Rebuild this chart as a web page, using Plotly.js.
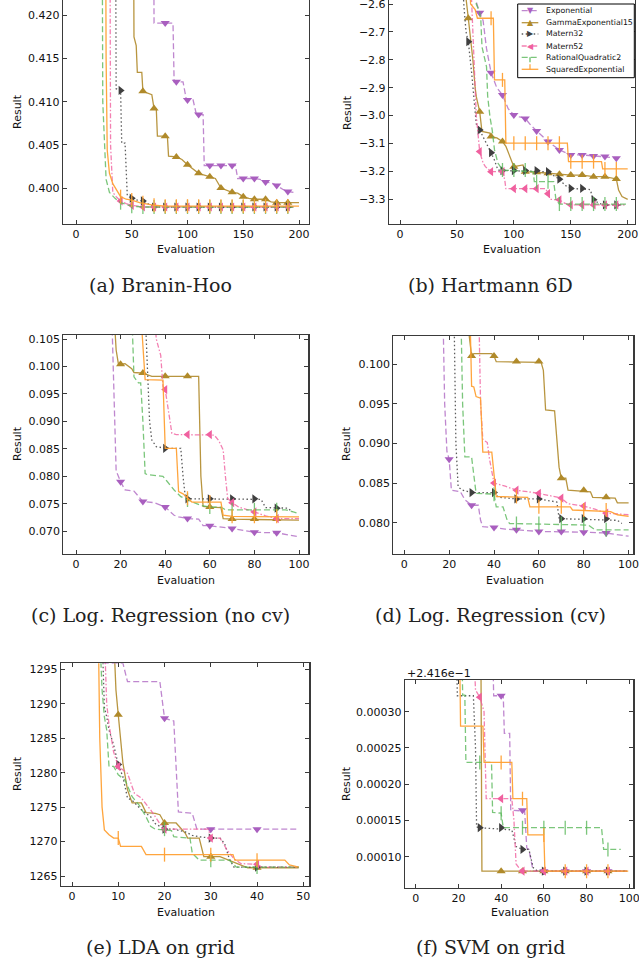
<!DOCTYPE html>
<html><head><meta charset="utf-8">
<script src="https://cdn.plot.ly/plotly-3.0.1.min.js"></script>
<style>html,body{margin:0;padding:0;background:#fff;overflow:hidden;width:639px;height:964px}
#plot{position:absolute;left:0;top:-6px;width:639px;height:970px}</style>
</head><body><div id="plot"></div>
<script>
const SERIES = ['Exponential','GammaExponential15','Matern32','Matern52','RationalQuadratic2','SquaredExponential'];

// (a) Branin-Hoo
const a_exp_x = [69,70,87,88,96,99,105,108,114,115,143,145,160,165,170,175,180,186,190,195];
const a_exp_y = [0.45,0.4191,0.4191,0.4123,0.4123,0.4102,0.4102,0.4085,0.4085,0.4026,0.4026,0.4011,0.4011,0.4010,0.4007,0.4006,0.4003,0.3998,0.3996,0.3995];
const a_gam_x = [51,52,54,55,59,60,68,70,72,73,80,82,83,90,95,100,110,120,125,130,140,145,150,155,160,170,175,180,200];
const a_gam_y = [0.45,0.4175,0.4165,0.4134,0.4134,0.4112,0.4108,0.4092,0.4092,0.4060,0.4060,0.4059,0.4037,0.4036,0.4033,0.4027,0.4017,0.4013,0.4011,0.4000,0.3995,0.3994,0.3990,0.3988,0.3987,0.3987,0.3984,0.3983,0.3983];
const a_m32_x = [35,36,40,41,44,45,46,50,55,60,65,70,195];
const a_m32_y = [0.45,0.4115,0.4113,0.4052,0.4052,0.4020,0.3991,0.3988,0.3986,0.3985,0.3981,0.3978,0.3978];
const a_m52_x = [30,31,33,36,40,45,50,55,60,195];
const a_m52_y = [0.45,0.405,0.3995,0.3990,0.3985,0.3982,0.3980,0.3979,0.3978,0.3978];
const a_rq_x = [23,24,27,30,35,40,50,60,195];
const a_rq_y = [0.45,0.410,0.401,0.3995,0.3988,0.3983,0.3979,0.3978,0.3978];
const a_se_x = [26,27,28,29,30,33,36,40,45,50,57,70,80,200];
const a_se_y = [0.45,0.415,0.4044,0.4025,0.4017,0.4005,0.3998,0.3990,0.3987,0.3986,0.3983,0.3980,0.3979,0.3979];
const a_marks = [40,50,60,70,80,90,100,110,120,130,140,150,160,170,180,190];
const a_starts = [80,60,40,40,40,40];

// (b) Hartmann 6D
const b_exp_x = [62,66,70,73,76,80,85,90,95,100,105,110,115,120,130,140,150,160,170,180,190,195];
const b_exp_y = [-2.5,-2.58,-2.631,-2.66,-2.76,-2.846,-2.90,-2.926,-2.975,-2.998,-3.005,-3.010,-3.035,-3.055,-3.093,-3.123,-3.141,-3.141,-3.145,-3.147,-3.153,-3.153];
const b_gam_x = [57,58,60,62,64,66,67,70,72,79,80,85,90,93,97,99,100,108,109,110,120,130,140,150,160,170,180,190,192,195,200];
const b_gam_y = [-2.5,-2.58,-2.651,-2.72,-2.80,-2.90,-2.932,-2.986,-3.057,-3.063,-3.075,-3.080,-3.093,-3.11,-3.15,-3.177,-3.183,-3.177,-3.195,-3.201,-3.203,-3.207,-3.210,-3.213,-3.213,-3.219,-3.219,-3.227,-3.267,-3.29,-3.300];
const b_m32_x = [55,56,58,60,63,65,67,70,75,80,83,86,90,130,135,140,145,150,167,169,170,175,180,197];
const b_m32_y = [-2.5,-2.6,-2.70,-2.735,-2.85,-2.944,-3.03,-3.052,-3.09,-3.133,-3.16,-3.195,-3.197,-3.201,-3.215,-3.228,-3.25,-3.261,-3.265,-3.29,-3.302,-3.315,-3.320,-3.320];
const b_m52_x = [62,63,65,67,70,73,75,80,90,92,93,128,130,132,140,145,150,197];
const b_m52_y = [-2.5,-2.6,-2.85,-3.0,-3.129,-3.17,-3.183,-3.201,-3.201,-3.23,-3.262,-3.262,-3.28,-3.300,-3.302,-3.315,-3.320,-3.320];
const b_rq_x = [66,67,70,71,72,76,77,79,81,83,86,88,90,117,118,135,137,140,200];
const b_rq_y = [-2.5,-2.6,-2.63,-2.657,-2.753,-2.825,-2.93,-3.004,-3.052,-3.123,-3.17,-3.183,-3.195,-3.201,-3.237,-3.237,-3.302,-3.317,-3.317];
const b_se_x = [61,62,66,68,82,83,92,93,147,148,177,178,200];
const b_se_y = [-2.5,-2.6,-2.62,-2.651,-2.651,-2.872,-2.872,-3.099,-3.099,-3.165,-3.165,-3.191,-3.191];
const b_marks = [60,70,80,90,100,110,120,130,140,150,160,170,180,190];
const b_starts = [70,60,60,70,90,80];

// (c) Log. Regression (no cv)
const c_exp_x = [16,17,18,20,22,26,30,35,40,44,46,50,55,57,60,70,80,90,100];
const c_exp_y = [0.11,0.095,0.081,0.0790,0.0775,0.0773,0.0754,0.0752,0.0744,0.0729,0.0726,0.0723,0.0722,0.0710,0.0710,0.0705,0.0698,0.0697,0.0690];
const c_gam_x = [17,18,19,20,22,25,26,30,34,55,56,57,60,65,66,70,100];
const c_gam_y = [0.11,0.103,0.1005,0.1004,0.1005,0.0996,0.0989,0.0988,0.0982,0.0982,0.080,0.0745,0.0744,0.0743,0.0723,0.0722,0.0720];
const c_m32_x = [31,32,33,34,36,40,47,48,49,50,83,85,90,95,97];
const c_m32_y = [0.11,0.100,0.090,0.0866,0.0854,0.0851,0.0851,0.080,0.0763,0.0759,0.0758,0.0743,0.0742,0.0742,0.0735];
const c_m52_x = [35,36,38,39,40,42,43,45,62,64,66,67,68,70,73,80,85,90,100];
const c_m52_y = [0.11,0.105,0.102,0.0963,0.0958,0.090,0.0878,0.0876,0.0875,0.0865,0.0848,0.080,0.0760,0.0752,0.0744,0.0735,0.0728,0.0723,0.0723];
const c_rq_x = [25,26,28,29,30,31,32,39,41,44,47,50,56,60,65,67,94,100];
const c_rq_y = [0.11,0.0981,0.0970,0.0970,0.090,0.0805,0.0803,0.0800,0.0790,0.0775,0.0763,0.0757,0.0747,0.0744,0.0744,0.0739,0.0739,0.0732];
const c_se_x = [29,30,31,39,40,45,46,48,50,52,65,66,70,100];
const c_se_y = [0.11,0.104,0.0976,0.0975,0.0851,0.0851,0.0772,0.0768,0.0760,0.0753,0.0753,0.0729,0.0727,0.0726];
const c_marks = [20,30,40,50,60,70,80,90];
const c_starts = [20,20,40,40,50,50];

// (d) Log. Regression (cv)
const d_exp_x = [17,18,19,20,21,25,27,30,33,34,35,40,45,50,60,80,90,100];
const d_exp_y = [0.11,0.095,0.089,0.0880,0.0841,0.0839,0.0829,0.0822,0.0822,0.0803,0.0795,0.0794,0.0792,0.0791,0.0789,0.0788,0.0787,0.0783];
const d_gam_x = [28,29,30,31,39,40,41,61,62,63,67,68,69,70,72,73,83,84,94,95,100];
const d_gam_y = [0.11,0.1034,0.1010,0.1013,0.1013,0.1010,0.1003,0.1002,0.0992,0.0942,0.0941,0.090,0.0870,0.0856,0.0856,0.0841,0.0839,0.0832,0.0831,0.0825,0.0825];
const d_m32_x = [22,23,24,26,30,40,42,50,60,65,68,69,70,95,97];
const d_m32_y = [0.11,0.090,0.0845,0.0841,0.0838,0.0838,0.0832,0.0830,0.0830,0.0828,0.0826,0.0806,0.0805,0.0803,0.0799];
const d_m52_x = [33,34,35,37,38,39,40,45,50,60,65,70,73,80,85,90,100];
const d_m52_y = [0.11,0.095,0.0905,0.0901,0.088,0.0862,0.0850,0.0846,0.0841,0.0837,0.0834,0.0831,0.0824,0.0821,0.0817,0.0812,0.0810];
const d_rq_x = [25,26,27,30,31,32,40,41,44,46,47,82,85,100];
const d_rq_y = [0.11,0.095,0.0883,0.0883,0.0860,0.0837,0.0836,0.0820,0.0820,0.0802,0.0799,0.0797,0.0791,0.0791];
const d_se_x = [29,30,31,32,34,35,39,40,41,55,56,74,75,92,95,100];
const d_se_y = [0.11,0.0972,0.0971,0.0959,0.0957,0.0889,0.0889,0.0860,0.0833,0.0832,0.0820,0.0820,0.0816,0.0814,0.0810,0.0808];
const d_marks = [20,30,40,50,60,70,80,90];
const d_starts = [20,30,30,40,40,50];

// (e) LDA on grid
const e_exp_x = [6,7,11,12,19,20,22,23,26,27,49];
const e_exp_y = [1300,1295.9,1295.9,1293.2,1293.2,1287.9,1287.5,1274.3,1274.1,1271.8,1271.8];
const e_gam_x = [9,9.5,10,10.5,11,12,13,15,16,18,19,20,22.5,24.5,25,27.5,28.5,32,34,36,38,49];
const e_gam_y = [1300,1292,1288.4,1284.3,1281.4,1277.5,1275.6,1275.6,1274.2,1274.1,1273.9,1272.7,1272.7,1271.2,1270.5,1270.5,1267.8,1267.8,1267.3,1266.8,1266.2,1266.2];
const e_m32_x = [6.5,7,7.5,8,9,10,11,12,13,15,17,18,19,20,22,24.5,26,27.5,30,32,33,34,35,49];
const e_m32_y = [1300,1289.5,1288.1,1286.2,1284,1281.2,1279.4,1276.3,1276.0,1274.6,1273.6,1272.6,1272.2,1271.8,1271.8,1271.4,1270.9,1270.7,1270.5,1270.5,1269.7,1267.5,1266.3,1266.3];
const e_m52_x = [7,7.5,8,9,10,12,13.5,15,17,19,20,29.5,30,32,33.5,35,36.5,40,41,49];
const e_m52_y = [1300,1290,1287,1283,1280.9,1279.9,1277.0,1276.3,1274.6,1272.6,1271.8,1271.8,1270.5,1270.5,1268.8,1267.5,1266.8,1266.7,1266.3,1266.3];
const e_rq_x = [6,6.5,7,7.5,8,9,10,11.5,13,14.5,16,17,18,21.5,22,25.5,26,27.5,34,35.5,49];
const e_rq_y = [1300,1292,1288.1,1286.2,1280.9,1280.9,1279.7,1278.9,1276.5,1275.3,1273.6,1272.2,1271.8,1271.6,1270.7,1270.5,1268.3,1267.3,1267.3,1266.3,1266.3];
const e_se_x = [5.7,6,6.5,7,8,9,10,10.5,15,16,34.8,35.2,46,47,49];
const e_se_y = [1300,1285,1275,1271.7,1271.0,1270.5,1270.5,1269.3,1269.3,1268.1,1268.1,1267.3,1267.3,1266.6,1266.3];
const e_marks = [10,20,30,40];
const e_starts = [20,10,10,10,20,10];

// (f) SVM on grid (values are offsets from 0.2416)
const f_exp_x = [36,36.5,41,41.5,44,44.5,51,52,53,54,55,99];
const f_exp_y = [0.0004,0.000322,0.000322,0.000270,0.000270,0.000164,0.000163,0.000112,0.000110,0.000095,0.000080,0.000080];
const f_gam_x = [30.5,31,99];
const f_gam_y = [0.0004,0.000080,0.000080];
const f_m32_x = [19,19.5,27,28,28.5,30,45,47,50,53,55,57,99];
const f_m32_y = [0.0004,0.000322,0.000322,0.00025,0.000141,0.000140,0.000137,0.000114,0.000110,0.000110,0.000085,0.000080,0.000080];
const f_m52_x = [27,28,30,32,33,45,46,47,49,50,99];
const f_m52_y = [0.0004,0.00033,0.000320,0.000300,0.000180,0.000180,0.000150,0.000090,0.000082,0.000080,0.000080];
const f_rq_x = [21.5,22,23,23.5,35.5,36,40,41,87,88,96];
const f_rq_y = [0.0004,0.000323,0.000323,0.000230,0.000230,0.000161,0.000160,0.000140,0.000140,0.000110,0.000110];
const f_se_x = [20.5,21,31.5,32,45,45.5,52,52.5,60,60.5,99.5];
const f_se_y = [0.0004,0.00028,0.00028,0.00023,0.00023,0.00018,0.00018,0.00013,0.00013,0.00008,0.00008];
const f_marks = [30,40,50,60,70,80,90];
const f_starts = [40,40,30,30,30,40];

// ---------- styling / layout ----------
const STY = [
  {color:'#a95fbf', line:'rgba(169,95,191,0.75)', dash:'6px,3px', sym:'triangle-down'},
  {color:'#b08a2a', line:'rgba(176,138,42,0.9)', dash:'solid', sym:'triangle-up'},
  {color:'#3f3f3f', line:'rgba(63,63,63,0.85)', dash:'1.5px,2.5px', sym:'triangle-right'},
  {color:'#f0609f', line:'rgba(240,96,159,0.8)', dash:'5px,2px,1.5px,2px', sym:'triangle-left'},
  {color:'#5ab85a', line:'rgba(90,184,90,0.8)', dash:'6px,3px', sym:'line-ns'},
  {color:'#ffa033', line:'rgba(255,160,51,0.95)', dash:'solid', sym:'line-ns'}
];

const PANELS = [
  {cap:'(a) Branin-Hoo', box:[63,309,-4,224], xcal:[76,0,299,200], ycal:[15.3,0.420,188,0.400], xdt:50, ydt:0.005, yfmt:'.3f',
   marks:a_marks, starts:a_starts, data:[[a_exp_x,a_exp_y],[a_gam_x,a_gam_y],[a_m32_x,a_m32_y],[a_m52_x,a_m52_y],[a_rq_x,a_rq_y],[a_se_x,a_se_y]],
   capX:161, capY:285, resX:17, resY:112, evX:186, evY:250},
  {cap:'(b) Hartmann 6D', box:[389,635,-4,224], xcal:[400,0,627.7,200], ycal:[4,-2.6,199.3,-3.3], xdt:50, ydt:0.1, yfmt:'.1f',
   marks:b_marks, starts:b_starts, data:[[b_exp_x,b_exp_y],[b_gam_x,b_gam_y],[b_m32_x,b_m32_y],[b_m52_x,b_m52_y],[b_rq_x,b_rq_y],[b_se_x,b_se_y]],
   capX:490, capY:285, resX:347, resY:112, evX:512, evY:250},
  {cap:'(c) Log. Regression (no cv)', box:[63.3,308.3,335,554], xcal:[76,0,299,100], ycal:[339,0.105,531.2,0.070], xdt:20, ydt:0.005, yfmt:'.3f',
   marks:c_marks, starts:c_starts, data:[[c_exp_x,c_exp_y],[c_gam_x,c_gam_y],[c_m32_x,c_m32_y],[c_m52_x,c_m52_y],[c_rq_x,c_rq_y],[c_se_x,c_se_y]],
   capX:161, capY:615, resX:17, resY:444, evX:186, evY:580},
  {cap:'(d) Log. Regression (cv)', box:[393.3,633.3,336,554], xcal:[404.3,0,628.6,100], ycal:[364,0.100,522.7,0.080], xdt:20, ydt:0.005, yfmt:'.3f',
   marks:d_marks, starts:d_starts, data:[[d_exp_x,d_exp_y],[d_gam_x,d_gam_y],[d_m32_x,d_m32_y],[d_m52_x,d_m52_y],[d_rq_x,d_rq_y],[d_se_x,d_se_y]],
   capX:490, capY:615, resX:346, resY:444, evX:515, evY:580},
  {cap:'(e) LDA on grid', box:[61,309.3,663.3,886], xcal:[72,0,303.3,50], ycal:[669.3,1295,876,1265], xdt:10, ydt:5, yfmt:'d',
   marks:e_marks, starts:e_starts, data:[[e_exp_x,e_exp_y],[e_gam_x,e_gam_y],[e_m32_x,e_m32_y],[e_m52_x,e_m52_y],[e_rq_x,e_rq_y],[e_se_x,e_se_y]],
   capX:161, capY:947, resX:17, resY:774, evX:186, evY:912},
  {cap:'(f) SVM on grid', box:[405,633.3,680,888], xcal:[415.7,0,629.3,100], ycal:[711.7,0.00030,856.7,0.00010], xdt:20, ydt:0.00005, yfmt:'.5f',
   marks:f_marks, starts:f_starts, data:[[f_exp_x,f_exp_y],[f_gam_x,f_gam_y],[f_m32_x,f_m32_y],[f_m52_x,f_m52_y],[f_rq_x,f_rq_y],[f_se_x,f_se_y]],
   capX:490, capY:947, resX:346, resY:784, evX:520, evY:912, offset:'+2.416e\u22121'}
];

const OFF = 6, W = 639, H = 970;
const PX = p => p / W;
const PY = p => 1 - (p + OFF) / H;
const lin = (p1, v1, p2, v2, p) => v1 + (p - p1) * (v2 - v1) / (p2 - p1);
function holdAt(xs, ys, xv) { let v = null; for (let k = 0; k < xs.length; k++) { if (xs[k] <= xv) v = ys[k]; } return v; }

const traces = [];
const layout = {
  width: W, height: H, autosize: false,
  margin: {l:0, r:0, t:0, b:0, pad:0},
  paper_bgcolor: '#fff', plot_bgcolor: '#fff',
  showlegend: false,
  font: {family: 'DejaVu Sans, sans-serif', size: 11, color: '#111'},
  annotations: [], shapes: []
};
const AX = {showline:true, linecolor:'#3a3a3a', linewidth:1.2, mirror:'allticks', ticks:'inside', ticklen:4, tickwidth:1,
  tickcolor:'#3a3a3a', showgrid:false, zeroline:false, ticklabeloverflow:'allow',
  tickfont:{family:'DejaVu Sans, sans-serif', size:11, color:'#111'}};

PANELS.forEach((P, i) => {
  const n = i + 1, xa = 'xaxis' + (n === 1 ? '' : n), ya = 'yaxis' + (n === 1 ? '' : n);
  const xr = 'x' + (n === 1 ? '' : n), yr = 'y' + (n === 1 ? '' : n);
  const [L, R, T, B] = P.box;
  layout[xa] = Object.assign({}, AX, {
    domain: [PX(L), PX(R)], anchor: yr,
    range: [lin(P.xcal[0], P.xcal[1], P.xcal[2], P.xcal[3], L), lin(P.xcal[0], P.xcal[1], P.xcal[2], P.xcal[3], R)],
    tick0: 0, dtick: P.xdt
  });
  layout[ya] = Object.assign({}, AX, {
    domain: [PY(B), PY(T)], anchor: xr,
    range: [lin(P.ycal[0], P.ycal[1], P.ycal[2], P.ycal[3], B), lin(P.ycal[0], P.ycal[1], P.ycal[2], P.ycal[3], T)],
    tick0: 0, dtick: P.ydt, tickformat: P.yfmt
  });
  P.data.forEach((d, s) => {
    const st = STY[s];
    traces.push({type:'scatter', mode:'lines', x:d[0], y:d[1], xaxis:xr, yaxis:yr, name:SERIES[s],
      line:{color:st.line, width:1.3, dash:st.dash}, hoverinfo:'skip'});
    const last = d[0][d[0].length - 1];
    const mx = P.marks.filter(v => v >= P.starts[s] && v <= last);
    const my = mx.map(v => holdAt(d[0], d[1], v));
    const isTick = st.sym === 'line-ns';
    traces.push({type:'scatter', mode:'markers', x:mx, y:my, xaxis:xr, yaxis:yr, name:SERIES[s], cliponaxis:true,
      marker: isTick ? {symbol:'line-ns', size:10, color:st.color, line:{color:st.line, width:1.3}}
                     : {symbol:st.sym, size:8, color:st.color, line:{width:0}}, hoverinfo:'skip'});
  });
  const A = layout.annotations;
  A.push({xref:'paper', yref:'paper', x:PX(P.capX), y:PY(P.capY), text:P.cap, showarrow:false, xanchor:'center', yanchor:'middle',
    font:{family:'DejaVu Serif, serif', size:19, color:'#222'}});
  A.push({xref:'paper', yref:'paper', x:PX(P.resX), y:PY(P.resY), text:'Result', textangle:-90, showarrow:false, xanchor:'center', yanchor:'middle',
    font:{family:'DejaVu Sans, sans-serif', size:11, color:'#111'}});
  A.push({xref:'paper', yref:'paper', x:PX(P.evX), y:PY(P.evY), text:'Evaluation', showarrow:false, xanchor:'center', yanchor:'middle',
    font:{family:'DejaVu Sans, sans-serif', size:11, color:'#111'}});
  if (P.offset) {
    A.push({xref:'paper', yref:'paper', x:PX(L), y:PY(T - 7), text:P.offset, showarrow:false, xanchor:'left', yanchor:'middle',
      font:{family:'DejaVu Sans, sans-serif', size:11, color:'#111'}});
  }
});

// legend (drawn in panel b, upper right)
const LG = {x0:517.7, x1:634.3, y0:4, y1:77.7, rows:[10.7,22.7,34,46,57.3,69.3], l0:521.7, l1:538.3, mk:530, tx:544};
layout.shapes.push({type:'rect', xref:'paper', yref:'paper', x0:PX(LG.x0), x1:PX(LG.x1), y0:PY(LG.y1), y1:PY(LG.y0),
  line:{color:'#000', width:1}, fillcolor:'#fff', layer:'above'});
const GLYPH = ['\u25BC','\u25B2','\u25B6','\u25C0', null, null];
SERIES.forEach((name, s) => {
  const st = STY[s], ry = LG.rows[s];
  layout.shapes.push({type:'line', xref:'paper', yref:'paper', x0:PX(LG.l0), x1:PX(LG.l1), y0:PY(ry), y1:PY(ry),
    line:{color:st.line, width:1.3, dash:st.dash}, layer:'above'});
  if (GLYPH[s]) {
    layout.annotations.push({xref:'paper', yref:'paper', x:PX(LG.mk), y:PY(ry), text:GLYPH[s], showarrow:false,
      xanchor:'center', yanchor:'middle', font:{family:'DejaVu Sans, sans-serif', size:8, color:st.color}});
  } else {
    const dy = s === 4 ? 5 : -5;
    layout.shapes.push({type:'line', xref:'paper', yref:'paper', x0:PX(LG.mk), x1:PX(LG.mk), y0:PY(ry), y1:PY(ry + dy),
      line:{color:st.color, width:1.2}, layer:'above'});
  }
  layout.annotations.push({xref:'paper', yref:'paper', x:PX(LG.tx), y:PY(ry), text:name, showarrow:false,
    xanchor:'left', yanchor:'middle', font:{family:'DejaVu Sans, sans-serif', size:7.8, color:'#111'}});
});

Plotly.newPlot('plot', traces, layout, {displayModeBar:false, staticPlot:true});
</script></body></html>
